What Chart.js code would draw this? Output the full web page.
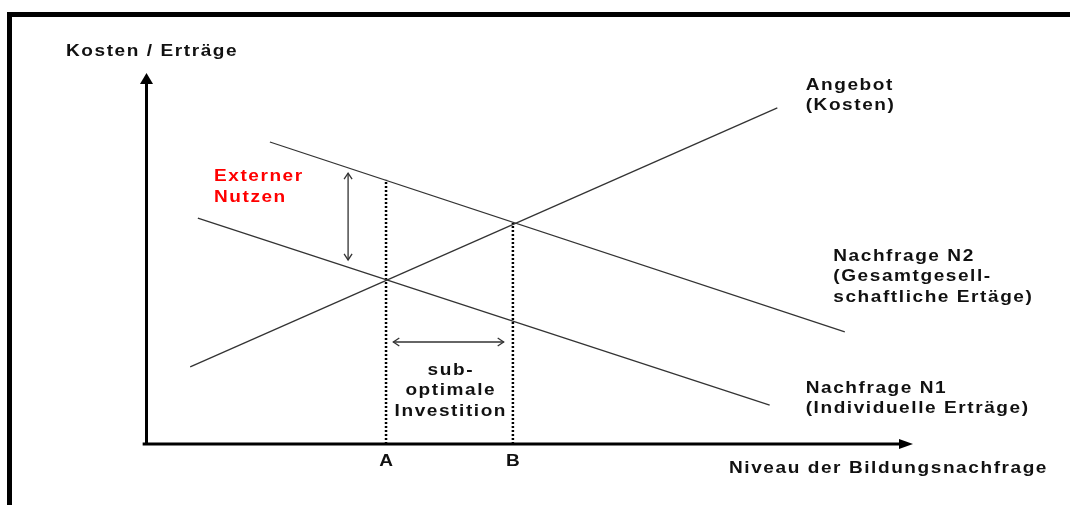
<!DOCTYPE html>
<html>
<head>
<meta charset="utf-8">
<script src="https://cdn.jsdelivr.net/npm/chart.js@4"></script>
<style>
html, body { margin: 0; padding: 0; background: #fff; }
#wrap { position: relative; width: 1070px; height: 505px; overflow: hidden; }
#frame { position: absolute; left: 7px; top: 12px; right: -10px; bottom: -10px;
         border-top: 5px solid #000; border-left: 5px solid #000; pointer-events: none; }
</style>
</head>
<body>
<div id="wrap">
  <canvas id="myChart" width="1070" height="505"></canvas>
  <div id="frame"></div>
</div>
<script>
// axes run 0..100 (Niveau der Bildungsnachfrage / Kosten, Erträge)
const angebot     = [{x: 5.7,  y: 20.8}, {x: 82.3, y: 90.6}];
const nachfrageN2 = [{x: 16.1, y: 81.4}, {x: 91.1, y: 30.2}];
const nachfrageN1 = [{x: 6.7,  y: 60.9}, {x: 81.3, y: 10.5}];

// A and B on the x axis, and where the dotted lines stop
const niveauA = 31.25, topA = 71.2;
const niveauB = 47.8,  topB = 59.6;

// double arrows
const externerNutzen = [{x: 26.3, y: 73.0}, {x: 26.3, y: 49.6}];
const suboptimal     = [{x: 32.2, y: 27.5}, {x: 46.6, y: 27.5}];

// texts: anchor in axis units, lines
const labels = [
  {x: -10.5, y: 105.9, lines: ['Kosten / Erträge'], align: 'left'},
  {x: 86.0,  y: 96.8,  lines: ['Angebot', '(Kosten)'], align: 'left'},
  {x: 8.8,   y: 72.2,  lines: ['Externer', 'Nutzen'], align: 'left', color: '#ff0000'},
  {x: 89.6,  y: 50.7,  lines: ['Nachfrage N2', '(Gesamtgesell-', 'schaftliche Ertäge)'], align: 'left'},
  {x: 39.6,  y: 19.95, lines: ['sub-', 'optimale', 'Investition'], align: 'center'},
  {x: 86.0,  y: 15.1,  lines: ['Nachfrage N1', '(Individuelle Erträge)'], align: 'left'},
  {x: niveauA, y: -4.6, lines: ['A'], align: 'center'},
  {x: niveauB, y: -4.6, lines: ['B'], align: 'center'},
  {x: 76.0,  y: -6.5,  lines: ['Niveau der Bildungsnachfrage'], align: 'left'}
];

const lineColor = '#333333';
const spacing = 1.4;   // letter spacing
const stretch = 1.12;  // the original lettering is a bit wide

function filledHead(ctx, x, y, ang, len, half) {
  ctx.beginPath();
  ctx.moveTo(x, y);
  ctx.lineTo(x - len * Math.cos(ang) + half * Math.sin(ang), y - len * Math.sin(ang) - half * Math.cos(ang));
  ctx.lineTo(x - len * Math.cos(ang) - half * Math.sin(ang), y - len * Math.sin(ang) + half * Math.cos(ang));
  ctx.closePath();
  ctx.fill();
}
function openHead(ctx, x, y, ang, len, half) {
  ctx.beginPath();
  ctx.moveTo(x - len * Math.cos(ang) + half * Math.sin(ang), y - len * Math.sin(ang) - half * Math.cos(ang));
  ctx.lineTo(x, y);
  ctx.lineTo(x - len * Math.cos(ang) - half * Math.sin(ang), y - len * Math.sin(ang) + half * Math.cos(ang));
  ctx.stroke();
}

const extras = {
  id: 'extras',
  afterDatasetsDraw(chart) {
    const ctx = chart.ctx;
    const xs = chart.scales.x, ys = chart.scales.y;
    const px = v => xs.getPixelForValue(v), py = v => ys.getPixelForValue(v);
    ctx.save();

    // axes heads
    ctx.fillStyle = '#000';
    filledHead(ctx, px(0), py(100), -Math.PI / 2, 11, 6.5);
    filledHead(ctx, px(100), py(0), 0, 14, 5);

    // open heads on the two double arrows
    ctx.strokeStyle = lineColor;
    ctx.lineWidth = 1.3;
    const e = externerNutzen, s = suboptimal;
    openHead(ctx, px(e[0].x), py(e[0].y), -Math.PI / 2, 6, 4);
    openHead(ctx, px(e[1].x), py(e[1].y), Math.PI / 2, 6, 4);
    openHead(ctx, px(s[0].x), py(s[0].y), Math.PI, 6, 4);
    openHead(ctx, px(s[1].x), py(s[1].y), 0, 6, 4);

    // texts
    ctx.font = 'bold 17px "Liberation Sans", Arial, sans-serif';
    ctx.letterSpacing = spacing + 'px';
    ctx.textBaseline = 'middle';
    labels.forEach(l => {
      ctx.fillStyle = l.color || '#111';
      ctx.textAlign = l.align;
      const dx = l.align === 'center' ? spacing / 2 : 0;
      l.lines.forEach((t, i) => {
        ctx.save();
        ctx.translate(px(l.x), py(l.y) + i * 20.8);
        ctx.scale(stretch, 1);
        ctx.fillText(t, dx, 0);
        ctx.restore();
      });
    });
    ctx.restore();
  }
};

function seg(data, opts) {
  return Object.assign({
    type: 'scatter', showLine: true, data: data, pointRadius: 0,
    borderColor: lineColor, borderWidth: 1.3, fill: false
  }, opts || {});
}

var myChart = new Chart('myChart', {
  type: 'scatter',
  data: {
    datasets: [
      seg([{x: 0, y: 0}, {x: 0, y: 98}], {borderColor: '#000', borderWidth: 3}),
      seg([{x: -0.5, y: 0}, {x: 98.5, y: 0}], {borderColor: '#000', borderWidth: 3}),
      seg(angebot),
      seg(nachfrageN2),
      seg(nachfrageN1),
      seg([{x: niveauA, y: 0}, {x: niveauA, y: topA}], {borderColor: '#000', borderWidth: 2.5, borderDash: [2, 2]}),
      seg([{x: niveauB, y: 0}, {x: niveauB, y: topB}], {borderColor: '#000', borderWidth: 2.5, borderDash: [2, 2]}),
      seg(externerNutzen),
      seg(suboptimal)
    ]
  },
  options: {
    responsive: false,
    animation: false,
    layout: {padding: {left: 146.5, right: 157, top: 73, bottom: 61}},
    scales: {
      x: {type: 'linear', min: 0, max: 100, display: false},
      y: {type: 'linear', min: 0, max: 100, display: false}
    },
    plugins: {
      legend: {display: false},
      tooltip: {enabled: false}
    },
    clip: false
  },
  plugins: [extras]
});
</script>
</body>
</html>
